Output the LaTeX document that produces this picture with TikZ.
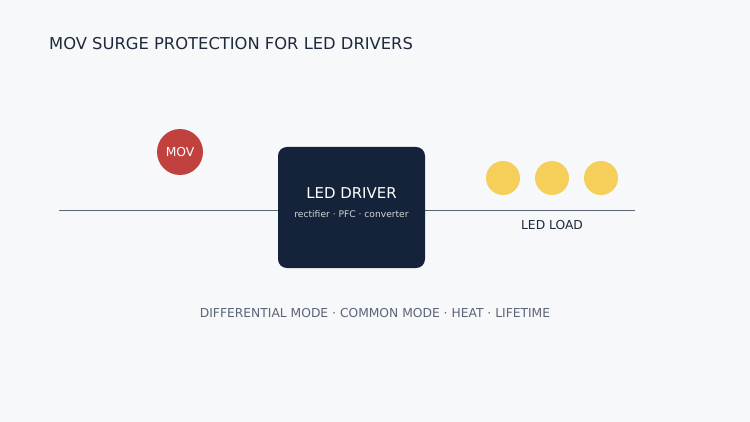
\documentclass[tikz,border=0pt]{standalone}
\usepackage{fontspec}
\setmainfont{DejaVu Sans}
\definecolor{bg}{HTML}{F7F8FA}
\definecolor{navy}{HTML}{15233A}
\definecolor{movred}{HTML}{C0413E}
\definecolor{ledyellow}{HTML}{F5CF5A}
\definecolor{ink}{HTML}{1E2A3C}
\definecolor{muted}{HTML}{5A6577}
\tikzset{
	led/.style={circle,fill=ledyellow,minimum size=34*0.02cm,inner sep=0pt},
	label/.style={font=\fontsize{7}{8}\selectfont}
}
\begin{document}
\begin{tikzpicture}[x=0.02cm,y=-0.02cm]
	\fill[bg] (0,0) rectangle (750,422);

	\node[anchor=west,text=ink,font=\fontsize{9.3}{11}\selectfont] (Title) at (43,44) {MOV SURGE PROTECTION FOR LED DRIVERS};

	\coordinate (LineStart) at (59,210);
	\coordinate (LineEnd) at (635,210);
	\draw[muted,line width=0.5pt] (LineStart) -- (LineEnd);

	\node[circle,fill=movred,minimum size=46*0.02cm,inner sep=0pt,text=white,label] (MOV) at (180,152) {MOV};

	\node[draw=none,fill=navy,rounded corners=5pt,minimum width=147*0.02cm,minimum height=121*0.02cm] (Driver) at (351.5,207.5) {};
	\node[text=white,font=\fontsize{8.5}{10}\selectfont] (DriverName) at (351.5,193) {LED DRIVER};
	\node[text=white!80!navy,font=\fontsize{5.2}{6}\selectfont] (DriverParts) at (351.5,214) {rectifier · PFC · converter};

	\node[led] (LedA) at (503,178) {};
	\node[led] (LedB) at (552,178) {};
	\node[led] (LedC) at (601,178) {};
	\node[text=ink,label] (Load) at (552,225) {LED LOAD};

	\node[text=muted,label] (Modes) at (375,313) {DIFFERENTIAL MODE · COMMON MODE · HEAT · LIFETIME};
\end{tikzpicture}
\end{document}
